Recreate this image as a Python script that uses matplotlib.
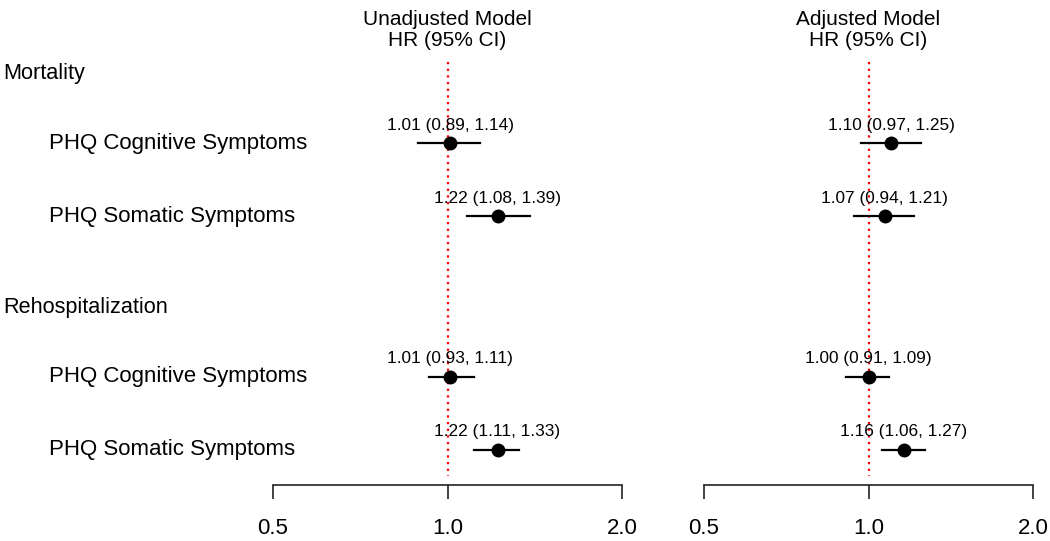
import matplotlib
matplotlib.use("Agg")
import matplotlib.pyplot as plt
import numpy as np

plt.rcParams['font.family'] = ['Liberation Sans', 'DejaVu Sans']

# Data
groups = ["Mortality", "Rehospitalization"]
row_labels = ["PHQ Cognitive Symptoms", "PHQ Somatic Symptoms",
              "PHQ Cognitive Symptoms", "PHQ Somatic Symptoms"]
panel_titles = ["Unadjusted Model\nHR (95% CI)", "Adjusted Model\nHR (95% CI)"]

unadj_hr = [1.01, 1.22, 1.01, 1.22]
unadj_lo = [0.89, 1.08, 0.93, 1.11]
unadj_hi = [1.14, 1.39, 1.11, 1.33]

adj_hr = [1.10, 1.07, 1.00, 1.16]
adj_lo = [0.97, 0.94, 0.91, 1.06]
adj_hi = [1.25, 1.21, 1.09, 1.27]

xticks = [0.5, 1.0, 2.0]
xtick_labels = ["0.5", "1.0", "2.0"]

# Layout (row positions)
group_y = [0.0, 3.2]
row_y = [0.95, 1.95, 4.15, 5.15]

W, H = 1050, 541
fig = plt.figure(figsize=(W / 100, H / 100), dpi=100)

def px_to_row(py):
    return (py - 74) / 73.0

y_top_px, y_bot_px = 60, 485
ylim = (px_to_row(y_bot_px), px_to_row(y_top_px))

panels = [
    (273, 622, unadj_hr, unadj_lo, unadj_hi, panel_titles[0]),
    (704, 1033, adj_hr, adj_lo, adj_hi, panel_titles[1]),
]

for (x0, x1, hr, lo, hi, title) in panels:
    ax = fig.add_axes([x0 / W, (H - y_bot_px) / H, (x1 - x0) / W, (y_bot_px - y_top_px) / H])
    ax.set_xscale('log')
    ax.set_xlim(0.5, 2.0)
    ax.set_ylim(*ylim)
    for s in ['top', 'right', 'left']:
        ax.spines[s].set_visible(False)
    ax.spines['bottom'].set_linewidth(1.2)
    ax.spines['bottom'].set_color('#222222')
    ax.set_yticks([])
    ax.set_xticks(xticks)
    ax.set_xticklabels(xtick_labels, fontsize=16)
    ax.xaxis.set_minor_locator(matplotlib.ticker.NullLocator())
    ax.tick_params(axis='x', length=10, width=1.2, pad=14, color='#222222')

    ax.plot([1.0, 1.0], [px_to_row(62), px_to_row(476)], color='red',
            linestyle=(0, (1, 2)), linewidth=1.6, clip_on=False, zorder=1)

    for y, h, l, u in zip(row_y, hr, lo, hi):
        ax.plot([l, u], [y, y], color='black', linewidth=1.6, zorder=2, clip_on=False)
        ax.plot([h], [y], marker='o', color='black', markersize=9, zorder=3, clip_on=False)
        ax.text(h, y - 0.25, f"{h:.2f} ({l:.2f}, {u:.2f})", ha='center', va='center',
                fontsize=12.4, clip_on=False)

    ax.text(1.0, px_to_row(30), title, ha='center', va='center', fontsize=15,
            linespacing=1.15, clip_on=False)

# Left labels
for g, y in zip(groups, group_y):
    fig.text(3 / W, 1 - (74 + y * 73) / H, g, ha='left', va='center', fontsize=15.6)
for lab, y in zip(row_labels, row_y):
    fig.text(49 / W, 1 - (74 + y * 73) / H, lab, ha='left', va='center', fontsize=16)

fig.savefig("out.png", dpi=100)
